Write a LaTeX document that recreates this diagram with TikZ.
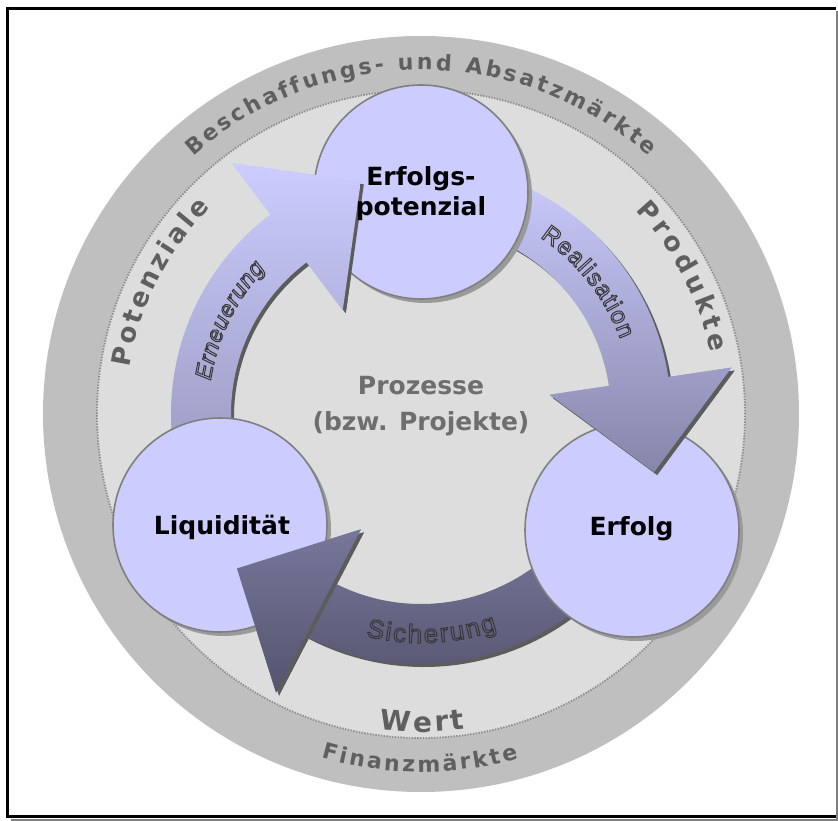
\documentclass[tikz,border=0pt]{standalone}
\usepackage{fontspec}
\setmainfont{DejaVu Sans}
\newfontfamily\labelfont{Liberation Sans}
\usetikzlibrary{decorations.text,shadows}

\definecolor{framegray}{HTML}{808080}
\definecolor{ringgray}{HTML}{BFBFBF}
\definecolor{discgray}{HTML}{DDDDDD}
\definecolor{dotgray}{HTML}{8C8C8C}
\definecolor{ringtext}{HTML}{5F5F5F}
\definecolor{centertext}{HTML}{6E6E6E}
\definecolor{bubble}{HTML}{CCCCFF}
\definecolor{bubbleedge}{HTML}{7F7F7F}
\definecolor{bubbleshadow}{HTML}{9A9A9A}
\definecolor{arrowshadow}{HTML}{5C5C5C}
\definecolor{outlinetext}{HTML}{363636}
\definecolor{renewtop}{HTML}{CCCCFF}
\definecolor{renewbottom}{HTML}{8E8EB2}
\definecolor{realtop}{HTML}{CCCCFF}
\definecolor{realbottom}{HTML}{8686AA}
\definecolor{securetop}{HTML}{78789C}
\definecolor{securebottom}{HTML}{54546E}

% switch the following glyphs to outline (stroked) rendering
\makeatletter
\newcommand\strokedglyphs{\pgfsys@invoke{1 Tr}}
\makeatother

% curved band between radii 190 and 250 from angle #1 to #2, head tip at angle #3
\newcommand\arrowband[3]{(#1:250) arc[start angle=#1, end angle=#2, radius=250]
  -- (#2:314) -- (#3:240.3) -- (#2:130) -- (#2:190)
  arc[start angle=#2, end angle=#1, radius=190] -- cycle}
\newcommand\arrowhead[2]{(#1:130) -- (#1:314) -- (#2:240.3) -- cycle}

\newcommand\ringfmt{\color{ringtext}\bfseries\fontsize{22}{26}\selectfont}
\newcommand\sidefmt{\color{ringtext}\bfseries\fontsize{26}{30}\selectfont}
\newcommand\valuefmt{\color{ringtext}\bfseries\fontsize{28}{32}\selectfont}
\newcommand\flowfmt{\color{outlinetext}\labelfont\fontsize{24}{28}\selectfont}
\newcommand\flowitfmt{\color{outlinetext}\labelfont\itshape\fontsize{23}{27}\selectfont}
\newcommand\safefmt{\color{outlinetext}\labelfont\fontsize{26}{30}\selectfont}

\begin{document}
\begin{tikzpicture}[x=1pt, y=1pt,
  bubble/.style={circle, draw=bubbleedge, line width=1.6pt, fill=bubble,
    minimum size=214pt, inner sep=0pt,
    drop shadow={shadow xshift=4pt, shadow yshift=-4pt, fill=bubbleshadow, opacity=1}},
  bubbletext/.style={font=\bfseries\fontsize{25}{30}\selectfont, align=center, text=black},
  centertextstyle/.style={font=\bfseries\fontsize{25}{36}\selectfont, align=center, text=centertext},
  curvedtext/.style={decorate, decoration={text along path, text align={fit to path}, text={#1}}},
  flowshadow/.style={fill=arrowshadow, shift={(3,-3)}}
]
\useasboundingbox (-421,-407) rectangle (417,414);

% frame with its shadow
\draw[framegray, line width=2pt] (-410,-405.5) -- (415.5,-405.5) -- (415.5,403);
\draw[black, line width=3pt] (415,-402) -- (-413,-402) -- (-413,405) -- (415,405);

% market ring and inner disc
\fill[ringgray] (0,0) circle[radius=378];
\fill[discgray] (0,0) circle[radius=324];
\draw[dotgray, line width=1.8pt, dash pattern=on 1.4pt off 1.4pt] (0,0) circle[radius=324];

% texts on the rings
\path[curvedtext={|\ringfmt|Beschaffungs- und Absatzmärkte}]
  (131.5:344) arc[start angle=131.5, end angle=48.5, radius=344];
\path[curvedtext={|\ringfmt|Finanzmärkte}]
  (253.8:358) arc[start angle=253.8, end angle=285.8, radius=358];
\path[curvedtext={|\sidefmt|Potenziale}]
  (171:295) arc[start angle=171, end angle=135.5, radius=295];
\path[curvedtext={|\sidefmt|Produkte}]
  (43.5:296) arc[start angle=43.5, end angle=12, radius=296];
\path[curvedtext={|\valuefmt|Wert}]
  (262.5:318) arc[start angle=262.5, end angle=278, radius=318];

\node[centertextstyle] (prozesse) at (0,8) {Prozesse\\(bzw. Projekte)};

% cycle arrows: shadows, then shaded bodies
\fill[flowshadow] \arrowband{212}{127}{104.5};
\fill[flowshadow] \arrowband{85}{8.5}{-14};
\fill[flowshadow] \arrowband{-35}{-117.5}{-140};
\shade[top color=renewtop, bottom color=renewbottom] \arrowband{212}{127}{104.5};
\shade[top color=realtop, bottom color=realbottom] \arrowband{85}{8.5}{-14};
\shade[top color=securetop, bottom color=securebottom] \arrowband{-35}{-117.5}{-140};

% the three states
\node[bubble] (potenzial) at (0,222) {};
\node[bubble] (liquiditaet) at (-201,-111) {};
\node[bubble] (erfolg) at (211,-116) {};

% arrow heads lie over the circles they point into
\fill[flowshadow] \arrowhead{127}{104.5};
\fill[flowshadow] \arrowhead{8.5}{-14};
\fill[flowshadow] \arrowhead{-117.5}{-140};
\begin{scope}
  \clip \arrowhead{127}{104.5};
  \shade[top color=renewtop, bottom color=renewbottom] \arrowband{212}{127}{104.5};
\end{scope}
\begin{scope}
  \clip \arrowhead{8.5}{-14};
  \shade[top color=realtop, bottom color=realbottom] \arrowband{85}{8.5}{-14};
\end{scope}
\begin{scope}
  \clip \arrowhead{-117.5}{-140};
  \shade[top color=securetop, bottom color=securebottom] \arrowband{-35}{-117.5}{-140};
\end{scope}

% outlined flow labels
\begin{scope}[line width=1pt]
  \strokedglyphs
  \path[curvedtext={|\flowitfmt|Erneuerung}]
    (171:213) arc[start angle=171, end angle=137, radius=213];
  \path[curvedtext={|\flowfmt|Realisation}]
    (56:213) arc[start angle=56, end angle=20.5, radius=213];
  \path[curvedtext={|\safefmt|Sicherung}]
    (256:229) arc[start angle=256, end angle=289.5, radius=229];
\end{scope}

% circle labels
\node[bubbletext] (potenzialtext) at (0,220) {Erfolgs-\\potenzial};
\node[bubbletext] (liquiditaettext) at (-199,-113) {Liquidität};
\node[bubbletext] (erfolgtext) at (210.5,-115) {Erfolg};
\end{tikzpicture}
\end{document}
